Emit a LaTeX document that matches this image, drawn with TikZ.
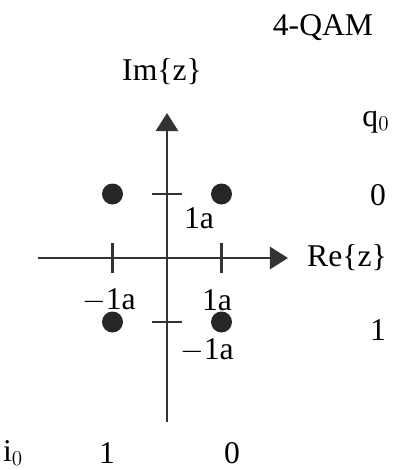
\documentclass[tikz,border=0pt]{standalone}
\usepackage{fontspec}
\setmainfont{Liberation Serif}
\usepackage{tikz}
\usetikzlibrary{arrows.meta}

\tikzset{
  axis/.style={line width=1.6pt, draw=black!80, -{Triangle[length=0.36cm,width=0.44cm]}},
  tick/.style={line width=1.5pt, draw=black!80},
  symbol/.style={circle, fill=black!85, inner sep=0pt, minimum size=0.42cm},
  lbl/.style={inner sep=0pt, font=\fontsize{18}{21}\selectfont}
}

\begin{document}
\begin{tikzpicture}

\useasboundingbox (-3.34,-4.24) rectangle (4.54,5.16);

% Axes
\coordinate (xl) at (-2.58,0);
\coordinate (xr) at (2.42,0);
\coordinate (yb) at (0,-3.28);
\coordinate (yt) at (0,2.9);
\draw[axis] (xl) -- (xr);
\draw[axis] (yb) -- (yt);

% Ticks
\draw[tick] (-1.09,-0.3) -- (-1.09,0.3);
\draw[tick] (1.09,-0.3) -- (1.09,0.3);
\draw[tick] (-0.3,1.28) -- (0.3,1.28);
\draw[tick] (-0.3,-1.28) -- (0.3,-1.28);

% Constellation points
\node[symbol] (s00) at (1.09,1.28) {};
\node[symbol] (s10) at (-1.09,1.28) {};
\node[symbol] (s01) at (1.09,-1.28) {};
\node[symbol] (s11) at (-1.09,-1.28) {};

% Tick labels
\node[lbl] (ya) at (0.64,0.8) {1a};
\node[lbl] (yma) at (0.8,-1.84) {$-$1a};
\node[lbl] (xa) at (1.0,-0.84) {1a};
\node[lbl] (xma) at (-1.16,-0.84) {$-$1a};

% Axis labels
\node[lbl] (re) at (3.6,0) {Re\{z\}};
\node[lbl] (im) at (-0.1,3.72) {Im\{z\}};
\node[lbl] (title) at (3.12,4.6) {4-QAM};

% Bit labels
\node[lbl] (q0) at (4.18,2.72) {q$_0$};
\node[lbl] (q0a) at (4.22,1.26) {0};
\node[lbl] (q0b) at (4.22,-1.44) {1};
\node[lbl] (i0) at (-3.08,-3.9) {i$_0$};
\node[lbl] (i0a) at (-1.2,-3.9) {1};
\node[lbl] (i0b) at (1.3,-3.9) {0};

\end{tikzpicture}
\end{document}
